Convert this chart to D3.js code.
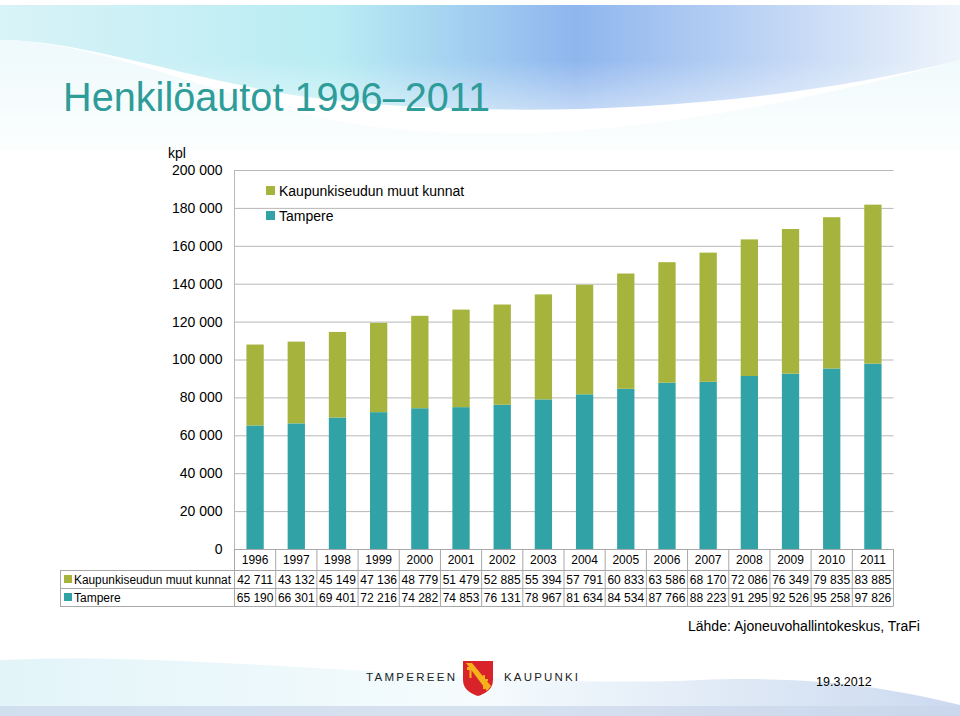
<!DOCTYPE html>
<html><head><meta charset="utf-8">
<script src="https://cdn.jsdelivr.net/npm/d3@7/dist/d3.min.js"></script>
<style>body{margin:0;background:#fff}svg{display:block}</style>
</head><body>
<svg id="c" width="960" height="716"></svg>
<script>
const years = ["1996","1997","1998","1999","2000","2001","2002","2003","2004","2005","2006","2007","2008","2009","2010","2011"];
const muutKunnat = [42711,43132,45149,47136,48779,51479,52885,55394,57791,60833,63586,68170,72086,76349,79835,83885];
const tampere = [65190,66301,69401,72216,74282,74853,76131,78967,81634,84534,87766,88223,91295,92526,95258,97826];
const seriesNames = ["Kaupunkiseudun muut kunnat","Tampere"];
const yTicks = [0,20000,40000,60000,80000,100000,120000,140000,160000,180000,200000];

(function(){
const colTampere = "#31A3A6", colMuut = "#A6B33D";
const svg = d3.select("#c");
const defs = svg.append("defs");
const g1 = defs.append("linearGradient").attr("id","gtop").attr("x1","0").attr("x2","1").attr("y1","0").attr("y2","0");
g1.append("stop").attr("offset","0").attr("stop-color","#d9f3f7");
g1.append("stop").attr("offset","0.35").attr("stop-color","#b8ecf3");
g1.append("stop").attr("offset","0.6").attr("stop-color","#8fb6ee");
g1.append("stop").attr("offset","1").attr("stop-color","#eef4fb");
const g2 = defs.append("linearGradient").attr("id","gfade").attr("x1","0").attr("x2","0").attr("y1","0").attr("y2","1");
g2.append("stop").attr("offset","0").attr("stop-color","#fff").attr("stop-opacity","0");
g2.append("stop").attr("offset","1").attr("stop-color","#fff").attr("stop-opacity","1");
const g3 = defs.append("linearGradient").attr("id","gbot").attr("x1","0").attr("x2","1").attr("y1","0").attr("y2","0");
g3.append("stop").attr("offset","0").attr("stop-color","#dff3f8");
g3.append("stop").attr("offset","0.5").attr("stop-color","#f4fbfd");
g3.append("stop").attr("offset","1").attr("stop-color","#c6d5ee");

// background swooshes
svg.append("rect").attr("x",0).attr("y",0).attr("width",960).attr("height",5).attr("fill","#fff");
svg.append("path").attr("d","M0,5 H960 V60 C760,110 520,120 330,100 C200,85 90,40 0,40 Z").attr("fill","url(#gtop)");
svg.append("path").attr("d","M0,40 C90,40 200,90 330,120 C500,150 700,130 960,60 V150 H0 Z").attr("fill","#e9f8fb").attr("opacity",0.7);
svg.append("rect").attr("x",0).attr("y",60).attr("width",960).attr("height",110).attr("fill","url(#gfade)");
svg.append("path").attr("d","M0,660 C200,650 500,690 700,680 C820,675 900,690 960,705 V716 H0 Z").attr("fill","url(#gbot)").attr("opacity",0.9);
svg.append("rect").attr("x",0).attr("y",706).attr("width",960).attr("height",10).attr("fill","#c9d6ea").attr("opacity",0.7);

// title
svg.append("text").attr("x",63).attr("y",111).attr("font-family","Liberation Sans, Arial, sans-serif")
  .attr("font-size",40).attr("fill","#2E9C98").attr("textLength",427).attr("lengthAdjust","spacingAndGlyphs")
  .text("Henkilöautot 1996–2011");

const pL = 234.5, pR = 893.5, pT = 170, pB = 549;
const x = d3.scaleBand().domain(years).range([pL,pR]).paddingInner(0.58).paddingOuter(0.29);
const y = d3.scaleLinear().domain([0,200000]).range([pB,pT]);
const fmt = v => d3.format(",")(v).replace(/,/g," ");
const font = "Liberation Sans, Arial, sans-serif";

// gridlines
svg.append("g").selectAll("line").data(yTicks).join("line")
  .attr("x1",pL).attr("x2",pR).attr("y1",d=>y(d)+0.5).attr("y2",d=>y(d)+0.5)
  .attr("stroke","#b8b8b8").attr("stroke-width",1);
svg.append("line").attr("x1",pL).attr("x2",pL).attr("y1",pT).attr("y2",pB).attr("stroke","#b8b8b8");

// y axis labels
const yAxis = d3.axisLeft(y).tickValues(yTicks).tickFormat(fmt).tickSize(0).tickPadding(12);
const ya = svg.append("g").attr("transform",`translate(${pL},0)`).call(yAxis);
ya.select(".domain").remove();
ya.selectAll("text").attr("font-family",font).attr("font-size",14).attr("fill","#000");
svg.append("text").attr("x",168).attr("y",158).attr("font-family",font).attr("font-size",14).text("kpl");

// bars
const data = years.map((yr,i)=>({year:yr, Tampere:tampere[i], Muut:muutKunnat[i]}));
const stack = d3.stack().keys(["Tampere","Muut"])(data);
const cols = {Tampere:colTampere, Muut:colMuut};
svg.append("g").selectAll("g").data(stack).join("g").attr("fill",d=>cols[d.key])
  .selectAll("rect").data(d=>d).join("rect")
  .attr("x",d=>x(d.data.year)).attr("width",x.bandwidth())
  .attr("y",d=>y(d[1])).attr("height",d=>y(d[0])-y(d[1]));

// legend
const leg = svg.append("g").attr("font-family",font).attr("font-size",14);
[[seriesNames[0],colMuut,191],[seriesNames[1],colTampere,216]].forEach(([n,c,yy])=>{
  leg.append("rect").attr("x",266).attr("y",yy-5).attr("width",9).attr("height",9).attr("fill",c);
  leg.append("text").attr("x",279).attr("y",yy+5).text(n);
});

// data table
const step = x.step();
const tb = svg.append("g").attr("font-family",font).attr("font-size",12);
const rowY = [549,570,588,606];
const tleft = 60;
const lc = "#a8a8a8";
tb.append("line").attr("x1",pL).attr("x2",pR).attr("y1",rowY[0]+0.5).attr("y2",rowY[0]+0.5).attr("stroke",lc);
[1,2,3].forEach(k=>tb.append("line").attr("x1",tleft).attr("x2",pR).attr("y1",rowY[k]+0.5).attr("y2",rowY[k]+0.5).attr("stroke",lc));
tb.append("line").attr("x1",tleft+0.5).attr("x2",tleft+0.5).attr("y1",rowY[1]).attr("y2",rowY[3]).attr("stroke",lc);
d3.range(years.length+1).forEach(k=>{
  const xx = pL + k*step;
  tb.append("line").attr("x1",xx).attr("x2",xx).attr("y1",rowY[0]).attr("y2",rowY[3]).attr("stroke",lc);
});
tb.selectAll("text.yr").data(years).join("text").attr("class","yr")
  .attr("x",d=>x(d)+x.bandwidth()/2).attr("y",564).attr("text-anchor","middle").text(d=>d);
tb.selectAll("text.m").data(muutKunnat).join("text").attr("class","m")
  .attr("x",(d,i)=>x(years[i])+x.bandwidth()/2).attr("y",584).attr("text-anchor","middle").text(fmt);
tb.selectAll("text.t").data(tampere).join("text").attr("class","t")
  .attr("x",(d,i)=>x(years[i])+x.bandwidth()/2).attr("y",602).attr("text-anchor","middle").text(fmt);
tb.append("rect").attr("x",64).attr("y",575).attr("width",8).attr("height",8).attr("fill",colMuut);
tb.append("text").attr("x",74).attr("y",584).attr("textLength",157).attr("lengthAdjust","spacingAndGlyphs").text(seriesNames[0]);
tb.append("rect").attr("x",64).attr("y",593).attr("width",8).attr("height",8).attr("fill",colTampere);
tb.append("text").attr("x",74).attr("y",602).text(seriesNames[1]);

// source
svg.append("text").attr("x",688).attr("y",631).attr("font-family",font).attr("font-size",14).text("Lähde: Ajoneuvohallintokeskus, TraFi");

// footer logo
const ft = svg.append("g").attr("font-family",font).attr("font-size",11.5).attr("fill","#222");
ft.append("text").attr("x",366).attr("y",681).attr("textLength",89).attr("lengthAdjust","spacing").text("TAMPEREEN");
ft.append("text").attr("x",504).attr("y",681).attr("textLength",74).attr("lengthAdjust","spacing").text("KAUPUNKI");
const sh = svg.append("g").attr("transform","translate(463,661)");
sh.append("path").attr("d","M0,0 H30 V19 C30,29 21,33 15,35 C9,33 0,29 0,19 Z").attr("fill","#D8232A");
sh.append("path").attr("d","M3,2 L9,2 L28,25 L24,30 Z").attr("fill","#F5B21A");
sh.append("rect").attr("x",4).attr("y",6).attr("width",7).attr("height",3).attr("fill","#F5B21A");
sh.append("rect").attr("x",6.5).attr("y",8).attr("width",2).attr("height",9).attr("fill","#F5B21A");
sh.append("path").attr("d","M20,14 L22,14 L22,28 L20,28 Z M17,18 L25,18 L25,20 L17,20 Z").attr("fill","#F5B21A");
svg.append("text").attr("x",816).attr("y",686).attr("font-family",font).attr("font-size",12.5).text("19.3.2012");
})();
</script>
</body></html>
